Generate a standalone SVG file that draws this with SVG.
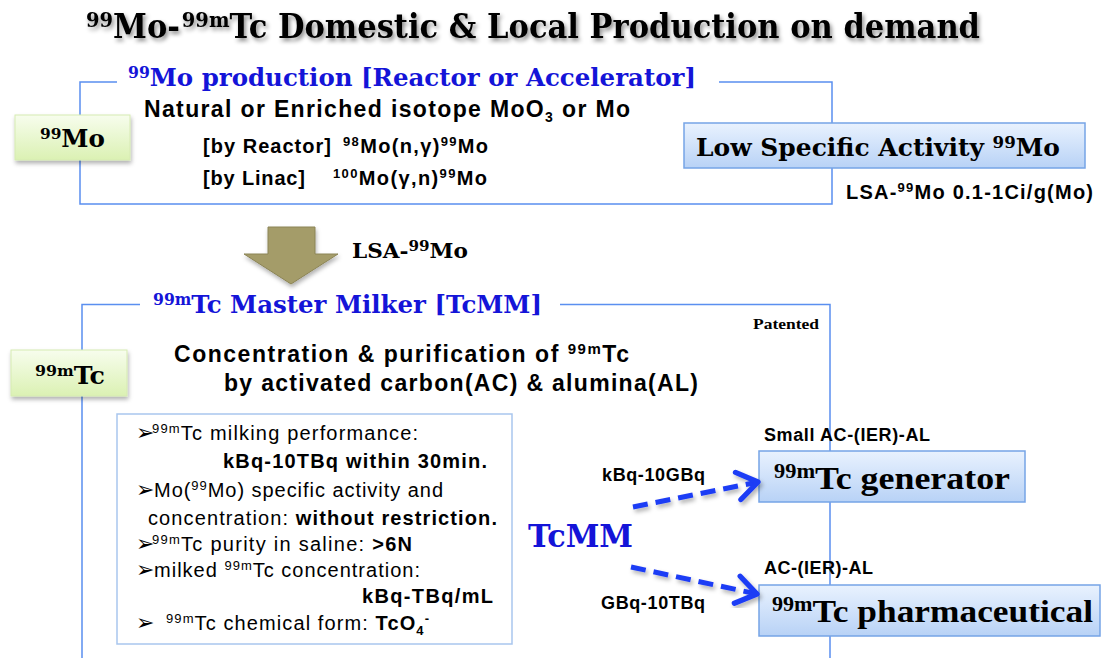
<svg xmlns="http://www.w3.org/2000/svg" width="1101" height="658" viewBox="0 0 1101 658">
<defs>
<style>
.serif{font-family:"DejaVu Serif","Liberation Serif",serif;font-weight:bold;}
.tserif{font-family:"Liberation Serif","DejaVu Serif",serif;font-weight:bold;}
.sans{font-family:"Liberation Sans","DejaVu Sans",sans-serif;}
.b{font-weight:bold;}
.blue{fill:#1414d8;}
.bullet{font-family:"DejaVu Sans",sans-serif;font-size:22px;}
.bracket{fill:none;stroke:#5a8ff0;stroke-width:1.5;}
.gbox{fill:url(#gGreen);stroke:#d6ebb2;stroke-width:1;filter:url(#sh);}
.bbox{fill:url(#gBlue);stroke:#76a4e6;stroke-width:1.5;}
.dash{fill:none;stroke:#1f3cf5;stroke-width:5;stroke-dasharray:15 8;marker-end:url(#vhead);filter:url(#sh2);}
</style>
<linearGradient id="gGreen" x1="0" y1="0" x2="0" y2="1">
<stop offset="0" stop-color="#f7fded"/><stop offset="1" stop-color="#dbf1b3"/>
</linearGradient>
<linearGradient id="gBlue" x1="0" y1="0" x2="0" y2="1">
<stop offset="0" stop-color="#e9f2fe"/><stop offset="1" stop-color="#b8d2f6"/>
</linearGradient>
<filter id="sh" x="-20%" y="-20%" width="140%" height="160%">
<feDropShadow dx="1" dy="3" stdDeviation="2" flood-color="#000" flood-opacity="0.3"/>
</filter>
<filter id="sh2" x="-20%" y="-50%" width="140%" height="200%">
<feDropShadow dx="2" dy="3" stdDeviation="2" flood-color="#000" flood-opacity="0.3"/>
</filter>
<filter id="tsh" x="-5%" y="-30%" width="110%" height="170%">
<feDropShadow dx="2" dy="3" stdDeviation="2" flood-color="#000" flood-opacity="0.45"/>
</filter>
<marker id="vhead" markerUnits="userSpaceOnUse" markerWidth="30" markerHeight="34" viewBox="0 0 26 32" refX="22" refY="16" orient="auto">
<path d="M3,3 L22,16 L3,29" fill="none" stroke="#1f3cf5" stroke-width="5" stroke-linecap="round" stroke-linejoin="round" stroke-dasharray="none"/>
</marker>
</defs>
<rect width="1101" height="658" fill="#fff"/>

<g id="title" filter="url(#tsh)">
<text class="serif" x="86" y="38" font-size="33" textLength="894" lengthAdjust="spacingAndGlyphs" fill="#000"><tspan font-size="21" dy="-11">99</tspan><tspan dy="11">Mo-</tspan><tspan font-size="21" dy="-11" dx="2">99m</tspan><tspan dy="11">Tc Domestic &amp; Local Production on demand</tspan></text>
</g>

<g id="mo-production">
<path class="bracket" d="M117,82 H80 V204 H832 V82 H719"/>
<text class="serif blue" x="128" y="86" font-size="25" textLength="568" lengthAdjust="spacingAndGlyphs"><tspan font-size="16" dy="-8">99</tspan><tspan dy="8">Mo production [Reactor or Accelerator]</tspan></text>
<text class="sans b" x="144" y="117" font-size="23" textLength="486" fill="#000">Natural or Enriched isotope MoO<tspan font-size="14" dy="5">3</tspan><tspan dy="-5"> or Mo</tspan></text>
<text class="sans b" x="203" y="153" font-size="20" textLength="128">[by Reactor]</text>
<text class="sans b" x="343" y="153" font-size="20" textLength="145"><tspan font-size="13" dy="-7">98</tspan><tspan dy="7">Mo(n,γ)</tspan><tspan font-size="13" dy="-7">99</tspan><tspan dy="7">Mo</tspan></text>
<text class="sans b" x="203" y="185" font-size="20" textLength="102">[by Linac]</text>
<text class="sans b" x="333" y="185" font-size="20" textLength="154"><tspan font-size="13" dy="-7">100</tspan><tspan dy="7">Mo(γ,n)</tspan><tspan font-size="13" dy="-7">99</tspan><tspan dy="7">Mo</tspan></text>
</g>

<g id="node-99mo">
<rect class="gbox" x="15" y="115" width="115" height="45"/>
<text class="serif" x="40" y="147" font-size="24" textLength="65" lengthAdjust="spacingAndGlyphs"><tspan font-size="15" dy="-8">99</tspan><tspan dy="8">Mo</tspan></text>
</g>

<g id="node-lsa">
<rect class="bbox" x="684" y="123" width="401" height="45"/>
<text class="serif" x="696" y="156" font-size="24" textLength="364" lengthAdjust="spacingAndGlyphs">Low Specific Activity <tspan font-size="16" dy="-8">99</tspan><tspan dy="8">Mo</tspan></text>
<text class="sans b" x="846" y="199" font-size="20" textLength="247"><tspan>LSA-</tspan><tspan font-size="13" dy="-7">99</tspan><tspan dy="7">Mo 0.1-1Ci/g(Mo)</tspan></text>
</g>

<g id="block-arrow">
<polygon points="268,227 315,227 315,254 338,254 291,284 244,254 268,254" fill="#a49c69" stroke="#8b8456" stroke-width="1" filter="url(#sh)"/>
<text class="serif" x="352" y="258" font-size="20" textLength="116" lengthAdjust="spacingAndGlyphs"><tspan>LSA-</tspan><tspan font-size="14" dy="-7">99</tspan><tspan dy="7">Mo</tspan></text>
</g>

<g id="tcmm-section">
<path class="bracket" d="M140,304.5 H82 V658 M560,304.5 H830 V658"/>
<text class="serif blue" x="153" y="313" font-size="25" textLength="389" lengthAdjust="spacingAndGlyphs"><tspan font-size="16" dy="-8">99m</tspan><tspan dy="8">Tc Master Milker [TcMM]</tspan></text>
<text class="tserif" x="753" y="329" font-size="15" textLength="66" lengthAdjust="spacingAndGlyphs">Patented</text>
<text class="sans b" x="174" y="362" font-size="23" textLength="455">Concentration &amp; purification of <tspan font-size="15" dy="-8">99m</tspan><tspan dy="8">Tc</tspan></text>
<text class="sans b" x="224" y="391" font-size="23" textLength="474">by activated carbon(AC) &amp; alumina(AL)</text>
</g>

<g id="node-99mtc">
<rect class="gbox" x="11" y="350" width="116" height="46"/>
<text class="serif" x="35" y="384" font-size="24" textLength="70" lengthAdjust="spacingAndGlyphs"><tspan font-size="15" dy="-8">99m</tspan><tspan dy="8">Tc</tspan></text>
</g>

<g id="features" class="sans" font-size="20">
<rect x="117" y="414" width="395" height="230" fill="#fff" stroke="#a9c6ee" stroke-width="1.5"/>
<text class="bullet" x="136" y="440">➢</text>
<text x="152" y="440" textLength="266"><tspan font-size="13" dy="-7">99m</tspan><tspan dy="7">Tc milking performance:</tspan></text>
<text class="b" x="223" y="468" textLength="264">kBq-10TBq within 30min.</text>
<text class="bullet" x="136" y="497">➢</text>
<text x="154" y="497" textLength="289">Mo(<tspan font-size="13" dy="-7">99</tspan><tspan dy="7">Mo) specific activity and</tspan></text>
<text x="148" y="525" textLength="349">concentration: <tspan class="b">without restriction.</tspan></text>
<text class="bullet" x="136" y="551">➢</text>
<text x="152" y="551" textLength="260"><tspan font-size="13" dy="-7">99m</tspan><tspan dy="7">Tc purity in saline:  </tspan><tspan class="b">&gt;6N</tspan></text>
<text class="bullet" x="136" y="577">➢</text>
<text x="154" y="577" textLength="266">milked <tspan font-size="13" dy="-7">99m</tspan><tspan dy="7">Tc concentration:</tspan></text>
<text class="b" x="362" y="603" textLength="131">kBq-TBq/mL</text>
<text class="bullet" x="136" y="630">➢</text>
<text x="166" y="630" textLength="263"><tspan font-size="13" dy="-7">99m</tspan><tspan dy="7">Tc chemical form: </tspan><tspan class="b">TcO</tspan><tspan class="b" font-size="13" dy="5">4</tspan><tspan class="b" font-size="13" dy="-12">-</tspan></text>
</g>

<g id="tcmm-label">
<text class="serif blue" x="528" y="547" font-size="32" textLength="105" lengthAdjust="spacingAndGlyphs">TcMM</text>
</g>

<g id="node-generator">
<text class="sans b" x="764" y="441" font-size="18" textLength="166">Small AC-(IER)-AL</text>
<rect class="bbox" x="759" y="451" width="266" height="51"/>
<text class="tserif" x="774" y="489" font-size="32" textLength="236" lengthAdjust="spacingAndGlyphs"><tspan font-size="20" dy="-11">99m</tspan><tspan dy="11">Tc generator</tspan></text>
</g>

<g id="node-pharmaceutical">
<text class="sans b" x="764" y="574" font-size="18" textLength="109">AC-(IER)-AL</text>
<rect class="bbox" x="759" y="585" width="341" height="51"/>
<text class="tserif" x="772" y="622" font-size="32" textLength="321" lengthAdjust="spacingAndGlyphs"><tspan font-size="20" dy="-11">99m</tspan><tspan dy="11">Tc pharmaceutical</tspan></text>
</g>

<g id="connectors">
<path class="dash" d="M633,507 L758,482"/>
<path class="dash" d="M631,567 L757,594"/>
<text class="sans b" x="602" y="481" font-size="18" textLength="103">kBq-10GBq</text>
<text class="sans b" x="601" y="609" font-size="18" textLength="104">GBq-10TBq</text>
</g>
</svg>
